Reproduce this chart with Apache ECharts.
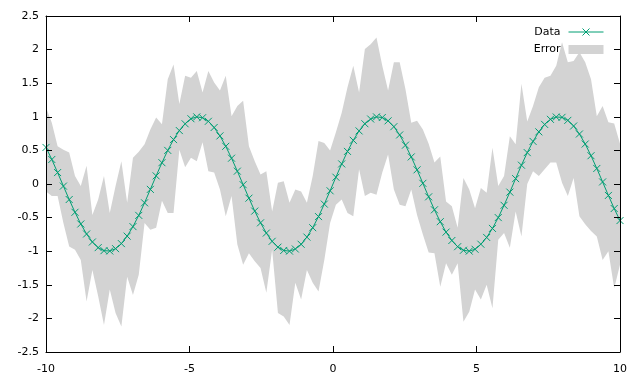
<!DOCTYPE html>
<html><head><meta charset="utf-8">
<script src="https://cdn.jsdelivr.net/npm/echarts@6/dist/echarts.min.js"></script>
<style>html,body{margin:0;padding:0;background:#fff}#c{width:640px;height:384px}</style>
</head><body><div id="c"></div>
<script>
const xValues = [-10, -9.798, -9.596, -9.394, -9.192, -8.990, -8.788, -8.586, -8.384, -8.182,
  -7.980, -7.778, -7.576, -7.374, -7.172, -6.970, -6.768, -6.566, -6.364, -6.162,
  -5.960, -5.758, -5.556, -5.354, -5.152, -4.949, -4.747, -4.545, -4.343, -4.141,
  -3.939, -3.737, -3.535, -3.333, -3.131, -2.929, -2.727, -2.525, -2.323, -2.121,
  -1.919, -1.717, -1.515, -1.313, -1.111, -0.909, -0.707, -0.505, -0.303, -0.101,
  0.101, 0.303, 0.505, 0.707, 0.909, 1.111, 1.313, 1.515, 1.717, 1.919,
  2.121, 2.323, 2.525, 2.727, 2.929, 3.131, 3.333, 3.535, 3.737, 3.939,
  4.141, 4.343, 4.545, 4.747, 4.949, 5.152, 5.354, 5.556, 5.758, 5.960,
  6.162, 6.364, 6.566, 6.768, 6.970, 7.172, 7.374, 7.576, 7.778, 7.980,
  8.182, 8.384, 8.586, 8.788, 8.990, 9.192, 9.394, 9.596, 9.798, 10];

const dataValues = [0.544, 0.365, 0.170, -0.031, -0.231, -0.421, -0.595, -0.744, -0.863, -0.947,
  -0.992, -0.997, -0.962, -0.887, -0.776, -0.634, -0.467, -0.280, -0.080, 0.121,
  0.317, 0.500, 0.661, 0.795, 0.896, 0.971, 0.999, 0.986, 0.933, 0.841,
  0.716, 0.561, 0.384, 0.191, -0.010, -0.211, -0.403, -0.578, -0.730, -0.853,
  -0.940, -0.989, -0.999, -0.967, -0.897, -0.790, -0.650, -0.485, -0.299, -0.101,
  0.101, 0.299, 0.485, 0.650, 0.790, 0.897, 0.967, 0.999, 0.989, 0.940,
  0.853, 0.730, 0.578, 0.403, 0.211, 0.010, -0.191, -0.384, -0.561, -0.716,
  -0.841, -0.933, -0.986, -0.999, -0.971, -0.896, -0.795, -0.661, -0.500, -0.317,
  -0.121, 0.080, 0.280, 0.467, 0.634, 0.776, 0.887, 0.962, 0.997, 0.992,
  0.947, 0.863, 0.744, 0.595, 0.421, 0.231, 0.031, -0.170, -0.365, -0.544];

const errorUpper = [1.14, 0.91, 0.56, 0.51, 0.47, 0.12, -0.03, 0.27, -0.46, -0.23,
  0.12, -0.43, -0.03, 0.34, -0.28, 0.39, 0.48, 0.59, 0.81, 0.99,
  0.89, 1.56, 1.78, 1.19, 1.61, 1.58, 1.68, 1.36, 1.68, 1.51,
  1.39, 1.61, 1.01, 1.16, 1.24, 0.56, 0.34, 0.14, 0.19, -0.41,
  0.02, 0.04, -0.28, -0.08, -0.11, -0.28, 0.12, 0.64, 0.61, 0.50,
  0.77, 1.06, 1.44, 1.76, 1.36, 2.01, 2.08, 2.18, 1.76, 1.39,
  1.81, 1.81, 1.41, 0.91, 0.94, 0.81, 0.60, 0.32, 0.41, -0.26,
  -0.33, -0.65, 0.09, -0.08, -0.36, -0.06, -0.13, 0.54, -0.03, 0.12,
  0.71, 0.59, 1.49, 0.93, 1.16, 1.44, 1.58, 1.61, 1.76, 2.11,
  1.81, 1.83, 1.96, 1.81, 1.56, 1.01, 1.16, 0.92, 0.90, 0.60];

const errorLower = [-0.11, -0.18, -0.18, -0.58, -0.93, -0.98, -1.13, -1.75, -1.28, -1.67,
  -2.10, -1.57, -1.92, -2.12, -1.38, -1.65, -1.35, -0.58, -0.68, -0.65,
  -0.25, -0.43, -0.43, 0.51, 0.25, 0.39, 0.34, 0.62, 0.19, 0.17,
  -0.08, -0.48, -0.18, -0.90, -1.20, -1.03, -1.15, -1.25, -1.62, -0.98,
  -1.92, -1.97, -2.10, -1.47, -1.72, -1.28, -1.47, -1.60, -1.13, -0.58,
  -0.31, -0.23, -0.43, -0.48, 0.22, -0.18, -0.13, -0.16, 0.17, 0.44,
  -0.08, -0.31, -0.33, -0.08, -0.46, -0.75, -1.02, -1.03, -1.53, -1.18,
  -1.35, -1.18, -2.05, -1.90, -1.57, -1.72, -1.50, -1.85, -0.83, -0.73,
  -0.95, -0.41, -0.78, 0.00, 0.19, 0.12, 0.22, 0.32, 0.32, 0.02,
  -0.18, 0.09, -0.48, -0.60, -0.70, -0.78, -1.13, -1.00, -1.55, -1.20];

const seriesNames = ['Data', 'Error'];

const chart = echarts.init(document.getElementById('c'), null, {renderer: 'canvas'});
const FONT = 'DejaVu Sans';
const LINE_COLOR = '#009e73';
const BAND_COLOR = '#d3d3d3';

const lineData = xValues.map((x, i) => [x, dataValues[i]]);
const bandData = xValues.map((x, i) => [x, errorLower[i], errorUpper[i]]);

function makeAxis(kind, position, showLabel) {
  const isX = kind === 'x';
  return {
    type: 'value',
    position: position,
    min: isX ? -10 : -2.5,
    max: isX ? 10 : 2.5,
    interval: isX ? 5 : 0.5,
    z: 10,
    axisLine: {show: true, onZero: false, lineStyle: {color: '#000', width: 1}},
    axisTick: {show: true, inside: true, length: 6, lineStyle: {color: '#000', width: 1}},
    axisLabel: {show: showLabel, color: '#000', fontSize: 11, fontFamily: FONT, margin: isX ? 12 : 7},
    splitLine: {show: false}
  };
}

const option = {
  animation: false,
  backgroundColor: '#fff',
  grid: {left: 46, right: 20, top: 16, bottom: 32},
  xAxis: [makeAxis('x', 'bottom', true), makeAxis('x', 'top', false)],
  yAxis: [makeAxis('y', 'left', true), makeAxis('y', 'right', false)],
  legend: {
    orient: 'vertical',
    right: 34,
    top: 26,
    align: 'right',
    padding: 0,
    itemWidth: 35,
    itemHeight: 9,
    itemGap: 6,
    textStyle: {color: '#000', fontSize: 11, fontFamily: FONT, padding: [0, 3, 0, 0]},
    data: [
      {
        name: seriesNames[0],
        icon: 'path://M0,4L35,4M14,0.5L21,7.5M14,7.5L21,0.5',
        itemStyle: {color: 'none', borderColor: LINE_COLOR, borderWidth: 1}
      },
      {name: seriesNames[1], icon: 'rect', itemStyle: {color: BAND_COLOR, borderWidth: 0}}
    ]
  },
  series: [
    {
      name: seriesNames[1],
      type: 'custom',
      xAxisIndex: 0,
      yAxisIndex: 0,
      z: 1,
      silent: true,
      itemStyle: {color: BAND_COLOR},
      data: bandData,
      encode: {x: 0, y: [1, 2]},
      renderItem: function (params, api) {
        if (params.dataIndex !== 0) return null;
        const pts = [];
        for (let i = 0; i < xValues.length; i++) pts.push(api.coord([xValues[i], errorUpper[i]]));
        for (let i = xValues.length - 1; i >= 0; i--) pts.push(api.coord([xValues[i], errorLower[i]]));
        return {type: 'polygon', shape: {points: pts}, style: {fill: BAND_COLOR, stroke: null}};
      }
    },
    {
      name: seriesNames[0],
      type: 'line',
      xAxisIndex: 0,
      yAxisIndex: 0,
      z: 3,
      data: lineData,
      showAllSymbol: true,
      symbol: 'path://M0,0L10,10M0,10L10,0',
      symbolSize: 7,
      lineStyle: {color: LINE_COLOR, width: 1},
      itemStyle: {color: LINE_COLOR, borderColor: LINE_COLOR, borderWidth: 1}
    }
  ]
};
chart.setOption(option);
</script>
</body></html>
